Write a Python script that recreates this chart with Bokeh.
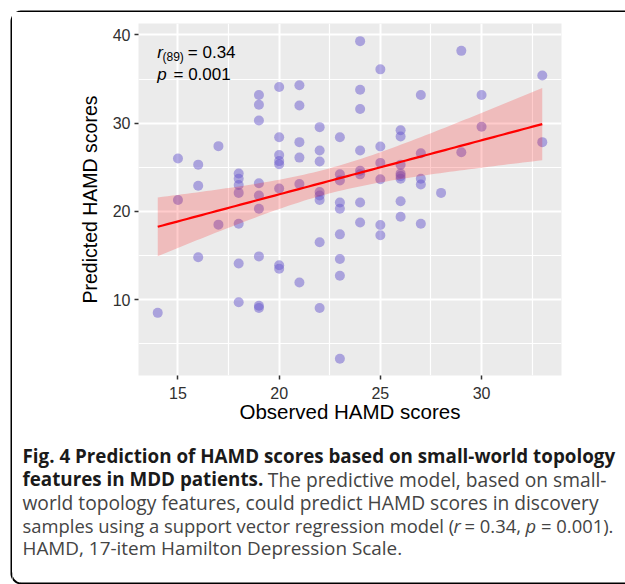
import numpy as np
from bokeh.plotting import figure
from bokeh.layouts import column, row
from bokeh.models import Range1d, FixedTicker, Label
from bokeh.embed import file_html
from bokeh.resources import INLINE

# ---- data ----
observed = [14,
            15, 15,
            16, 16, 16,
            17, 17,
            18, 18, 18, 18, 18, 18, 18,
            19, 19, 19, 19, 19, 19, 19, 19, 19,
            20, 20, 20, 20, 20, 20, 20, 20,
            21, 21, 21, 21, 21, 21,
            22, 22, 22, 22, 22, 22, 22, 22,
            23, 23, 23, 23, 23, 23, 23, 23, 23,
            24, 24, 24, 24, 24, 24, 24, 24,
            25, 25, 25, 25, 25, 25,
            26, 26, 26, 26, 26, 26, 26, 26,
            27, 27, 27, 27, 27,
            28,
            29, 29,
            30, 30,
            33, 33]
predicted = [8.5,
             26.0, 21.3,
             25.3, 22.9, 14.8,
             27.4, 18.5,
             24.3, 23.7, 23.0, 22.1, 18.6, 14.1, 9.7,
             33.2, 32.1, 30.3, 23.2, 21.8, 20.3, 14.9, 9.3, 9.05,
             34.1, 28.4, 26.4, 25.7, 25.35, 22.6, 13.9, 13.5,
             34.3, 32.0, 27.85, 26.1, 23.1, 11.95,
             29.55, 26.9, 25.65, 22.2, 21.8, 21.3, 16.5, 9.05,
             28.4, 24.2, 23.5, 21.0, 20.3, 17.4, 14.6, 12.7, 3.3,
             39.3, 33.8, 31.6, 26.9, 24.6, 24.2, 21.0, 18.75,
             36.1, 27.35, 25.5, 23.65, 18.45, 17.3,
             29.2, 28.5, 25.3, 24.3, 24.0, 23.7, 21.15, 19.4,
             33.2, 26.6, 23.7, 23.05, 18.6,
             22.1,
             38.2, 26.7,
             33.2, 29.6,
             35.4, 27.85]
x_ticks = [15, 20, 25, 30]
x_minor = [12.5, 17.5, 22.5, 27.5, 32.5]
y_ticks = [10, 20, 30, 40]
y_minor = [5, 15, 25, 35]

# ---- linear fit with 95% confidence band ----
x = np.array(observed, dtype=float)
y = np.array(predicted, dtype=float)
n = len(x)
slope, intercept = np.polyfit(x, y, 1)
xs = np.linspace(x.min(), x.max(), 80)
yhat = intercept + slope * xs
resid = y - (intercept + slope * x)
s = np.sqrt(np.sum(resid ** 2) / (n - 2))
xbar = x.mean()
se = s * np.sqrt(1.0 / n + (xs - xbar) ** 2 / np.sum((x - xbar) ** 2))
t_crit = 1.9876  # t(0.975, df ~ 87)
lower = yhat - t_crit * se
upper = yhat + t_crit * se


def no_align(f):
    if "frame_align" in f.properties():
        f.frame_align = False
    return f


def page_fig(ox, oy, w, h):
    """Figure without axes whose data coordinates equal page pixels."""
    f = figure(width=w, height=h, output_backend="svg", toolbar_location=None,
               x_range=Range1d(ox, ox + w), y_range=Range1d(oy + h, oy),
               x_axis_type=None, y_axis_type=None,
               min_border_left=0, min_border_right=0,
               min_border_top=0, min_border_bottom=0,
               background_fill_color="white", border_fill_color="white",
               outline_line_color=None)
    f.grid.visible = False
    return no_align(f)


# page geometry
OX, OY = 12, 12
W = 613
H1 = 418
H2 = 142
FX, FY = 138, 375  # page position of the chart frame's bottom-left corner

p = figure(width=W, height=H1, output_backend="svg", toolbar_location=None,
           x_range=Range1d(13.05, 33.95), y_range=Range1d(1.4, 41.3),
           min_border_left=FX - OX, min_border_right=W - (561 - OX),
           min_border_top=23 - OY, min_border_bottom=H1 - (FY - OY),
           background_fill_color="#EBEBEB", border_fill_color="white",
           outline_line_color=None)
no_align(p)

p.xaxis.ticker = FixedTicker(ticks=x_ticks, minor_ticks=x_minor)
p.yaxis.ticker = FixedTicker(ticks=y_ticks, minor_ticks=y_minor)
for g in (p.xgrid, p.ygrid):
    g.grid_line_color = "white"
    g.grid_line_width = 2
    g.minor_grid_line_color = "white"
    g.minor_grid_line_width = 1.2
for ax in (p.xaxis, p.yaxis):
    ax.axis_line_color = None
    ax.major_tick_line_color = "#333333"
    ax.major_tick_line_width = 1.5
    ax.major_tick_in = 0
    ax.major_tick_out = 4
    ax.minor_tick_line_color = None
    ax.major_label_text_font = "Liberation Sans"
    ax.major_label_text_font_size = "16px"
    ax.major_label_text_color = "#303030"
    ax.axis_label_text_font = "Liberation Sans"
    ax.axis_label_text_font_style = "normal"
    ax.axis_label_text_color = "black"
p.xaxis.axis_label = "Observed HAMD scores"
p.yaxis.axis_label = "Predicted HAMD scores"
p.xaxis.axis_label_text_font_size = "20.5px"
p.yaxis.axis_label_text_font_size = "19.5px"
p.xaxis.major_label_standoff = 7
p.yaxis.major_label_standoff = 4
p.xaxis.axis_label_standoff = -2
p.yaxis.axis_label_standoff = 9

p.scatter(x, y, size=10, fill_color="#6A5ACD", fill_alpha=0.5, line_color=None)
p.varea(x=xs, y1=lower, y2=upper, fill_color="#FF0000", fill_alpha=0.2)
p.line(xs, yhat, line_color="#FF0000", line_width=2.2)


def frame_lab(text, px, py, size, style="normal"):
    p.add_layout(Label(x=px - FX, y=FY - py, x_units="screen", y_units="screen",
                       text=text, text_font="Liberation Sans", text_font_size=size,
                       text_font_style=style, text_color="black",
                       text_align="left", text_baseline="alphabetic"))


# statistics annotation (inside the chart frame)
frame_lab("r", 156.7, 52, "17px", "italic")
frame_lab("(89)", 162, 56.5, "12px")
frame_lab("= 0.34", 187.3, 52, "17px")
frame_lab("p", 156.7, 74, "17px", "italic")
frame_lab("= 0.001", 173, 74, "17px")

# ---- caption ----
cap = page_fig(OX, OY + H1, W, H2)
CF = "Open Sans"
BS = "18.8px"   # bold run
RS = "19.2px"   # regular text
MS = "18.4px"   # line with the statistics
LS = "18.9px"   # last line
BC = "#1a1a1a"
RC = "#444444"


def cap_lab(text, px, py, size=RS, style="normal", color=RC, align="left"):
    cap.add_layout(Label(x=px, y=py, text=text, text_font=CF, text_font_size=size,
                         text_font_style=style, text_color=color,
                         text_align=align, text_baseline="alphabetic"))


L1, L2, L3, L4, L5 = 455, 478.5, 501.5, 524.5, 547.5
cap_lab("Fig. 4 Prediction of HAMD scores based on small-world topology", 22, L1, BS, "bold", BC)
cap_lab("features in MDD patients.", 22, L2, BS, "bold", BC)
cap_lab("The predictive model, based on small-", 606, L2, align="right")
cap_lab("world topology features, could predict HAMD scores in discovery", 22, L3)
cap_lab("samples using a support vector regression model (", 22, L4, MS)
cap_lab("r", 453, L4, MS, "italic")
cap_lab("= 0.34,", 464, L4, MS)
cap_lab("p", 525, L4, MS, "italic")
cap_lab("= 0.001).", 540.5, L4, MS)
cap_lab("HAMD, 17-item Hamilton Depression Scale.", 22, L5, LS)

# ---- rounded outer frame (drawn in page pixels across the thin border figures) ----
R = 10.0
LX, TY, BY = 11.0, 11.0, 583.0
th = np.linspace(0, np.pi / 2, 20)
bx = np.concatenate([[700.0], (LX + R) - R * np.cos(th[::-1]), (LX + R) - R * np.cos(th), [700.0]])
by = np.concatenate([[TY], (TY + R) - R * np.sin(th[::-1]), (BY - R) + R * np.sin(th), [BY]])

strip = page_fig(0, 0, OX, OY + H1 + H2 + 12)
topbar = page_fig(OX, 0, W, OY)
botbar = page_fig(OX, OY + H1 + H2, W, 12)
for f in (strip, topbar, botbar):
    f.line(bx, by, line_color="black", line_width=2)

layout = row(strip, column(topbar, p, cap, botbar, spacing=0), spacing=0)

open("out.html", "w").write(file_html(layout, INLINE))
